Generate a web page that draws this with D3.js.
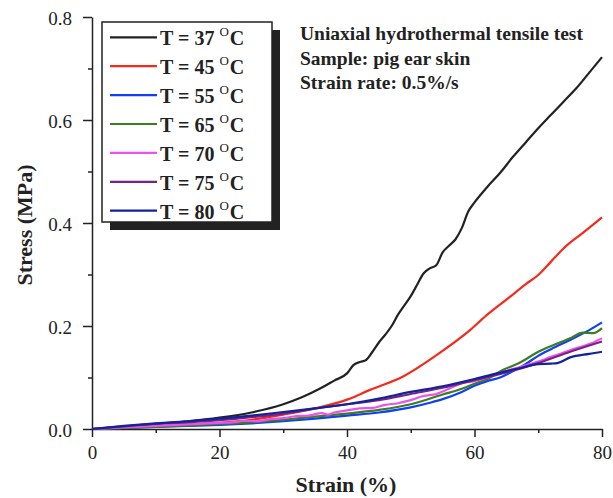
<!DOCTYPE html>
<html>
<head>
<meta charset="utf-8">
<script src="https://cdn.jsdelivr.net/npm/d3@7"></script>
<style>
  body { margin: 0; background: #fff; }
  svg text { font-family: 'Liberation Serif', 'Times New Roman', serif; }
  .axis path, .axis line { stroke: #222; stroke-width: 1.5; }
  .axis text { fill: #222; font-size: 19px; }
</style>
</head>
<body>
<div id="chart"></div>
<script>
// strain (%) sample points and stress (MPa)
const strain37 = [0, 5, 10, 15, 20, 25, 30, 33, 36, 38, 40, 41, 42, 43, 44, 45, 46, 47, 48, 49, 50, 51, 52, 53, 54, 55, 56, 57, 58, 59, 60, 62, 64, 66, 68, 70, 72, 74, 76, 78, 80]
const stress37 = [0, 0.004, 0.010, 0.015, 0.022, 0.032, 0.048, 0.062, 0.080, 0.094, 0.108, 0.124, 0.130, 0.134, 0.150, 0.168, 0.183, 0.200, 0.222, 0.240, 0.258, 0.280, 0.302, 0.312, 0.318, 0.343, 0.356, 0.368, 0.390, 0.422, 0.440, 0.470, 0.497, 0.528, 0.556, 0.584, 0.610, 0.636, 0.662, 0.692, 0.722]

const strain45 = [0, 10, 20, 25, 30, 35, 40, 43.6, 48.8, 54.1, 59.3, 62, 65.6, 68, 70, 72, 74, 77, 80]
const stress45 = [0, 0.005, 0.012, 0.018, 0.028, 0.040, 0.057, 0.076, 0.102, 0.144, 0.192, 0.222, 0.257, 0.281, 0.299, 0.325, 0.351, 0.381, 0.411]

const strain55 = [0, 5, 10, 15, 20, 25, 30, 35, 40, 45, 50, 53, 55, 58, 60, 62, 64, 66, 68, 70, 72, 75, 78, 80]
const stress55 = [0, 0.002, 0.004, 0.006, 0.008, 0.011, 0.015, 0.020, 0.026, 0.032, 0.042, 0.051, 0.058, 0.072, 0.084, 0.093, 0.100, 0.112, 0.126, 0.142, 0.155, 0.173, 0.192, 0.207]

const strain65 = [0, 5, 10, 15, 20, 25, 30, 35, 40, 45, 50, 55, 58, 60, 62, 64.5, 67, 70, 73, 75, 77, 78.6, 80]
const stress65 = [0, 0.002, 0.004, 0.007, 0.010, 0.013, 0.018, 0.024, 0.030, 0.037, 0.048, 0.067, 0.078, 0.088, 0.097, 0.115, 0.128, 0.150, 0.166, 0.176, 0.187, 0.186, 0.196]

const strain70 = [0, 5, 10, 15, 20, 22, 24, 26, 28, 30, 32, 34, 36, 37, 38, 40, 42, 44, 46, 48, 50, 52, 54, 56, 58, 60, 62, 64.5, 67, 70, 72, 75, 78, 80]
const stress70 = [0, 0.003, 0.006, 0.009, 0.012, 0.013, 0.016, 0.015, 0.019, 0.021, 0.025, 0.026, 0.031, 0.028, 0.032, 0.036, 0.040, 0.041, 0.047, 0.050, 0.056, 0.064, 0.068, 0.078, 0.089, 0.093, 0.100, 0.111, 0.120, 0.131, 0.140, 0.153, 0.165, 0.176]

const strain75 = [0, 5, 10, 15, 20, 25, 30, 35, 40, 45, 50, 55, 60, 65, 70, 75, 80]
const stress75 = [0, 0.005, 0.010, 0.013, 0.017, 0.023, 0.030, 0.040, 0.048, 0.056, 0.068, 0.080, 0.095, 0.110, 0.128, 0.150, 0.170]

const strain80 = [0, 5, 10, 15, 20, 25, 30, 35, 40, 45, 50, 55, 60, 64.5, 67, 70, 72, 73, 75, 78, 80]
const stress80 = [0, 0.006, 0.011, 0.015, 0.020, 0.026, 0.033, 0.040, 0.048, 0.059, 0.072, 0.083, 0.097, 0.111, 0.118, 0.126, 0.127, 0.128, 0.139, 0.146, 0.150]

const temps = ['37', '45', '55', '65', '70', '75', '80']
const colors = ['#222222', '#f42a1c', '#1040f5', '#3a7d22', '#ee50ee', '#7a2284', '#11239a']
const strains = [strain37, strain45, strain55, strain65, strain70, strain75, strain80]
const stresses = [stress37, stress45, stress55, stress65, stress70, stress75, stress80]

const xMajor = [0, 20, 40, 60, 80]
const xMinor = [10, 30, 50, 70]
const yMajor = [0, 0.2, 0.4, 0.6, 0.8]
const yMinor = [0.1, 0.3, 0.5, 0.7]

const notes = ['Uniaxial hydrothermal tensile test', 'Sample: pig ear skin', 'Strain rate: 0.5%/s']

const serif = "'Liberation Serif', 'Times New Roman', serif"
const w = 613, h = 498
const svg = d3.select('#chart').append('svg').attr('width', w).attr('height', h)
  .attr('font-family', serif)

const x = d3.scaleLinear().domain([0, 80]).range([92, 602])
const y = d3.scaleLinear().domain([0, 0.8]).range([429, 17])

// axes
const xAxis = svg.append('g').attr('class', 'axis').attr('transform', `translate(0,${y(0)})`)
  .call(d3.axisBottom(x).tickValues(xMajor).tickSize(8).tickSizeOuter(0).tickFormat(d3.format('d')))
  .attr('font-family', serif)
xAxis.selectAll('text').attr('y', 30).attr('dy', 0)
svg.append('g').attr('class', 'axis').attr('transform', `translate(0,${y(0)})`)
  .call(d3.axisBottom(x).tickValues(xMinor).tickSize(4).tickFormat(''))
  .select('.domain').remove()

const yAxis = svg.append('g').attr('class', 'axis').attr('transform', `translate(${x(0)},0)`)
  .call(d3.axisLeft(y).tickValues(yMajor).tickSize(9).tickSizeOuter(0).tickPadding(11).tickFormat(d3.format('.1f')))
  .attr('font-family', serif)
yAxis.selectAll('text').attr('dy', '0.38em')
svg.append('g').attr('class', 'axis').attr('transform', `translate(${x(0)},0)`)
  .call(d3.axisLeft(y).tickValues(yMinor).tickSize(4).tickFormat(''))
  .select('.domain').remove()

// axis titles
svg.append('text').text('Strain (%)').attr('x', 346).attr('y', 492)
  .attr('text-anchor', 'middle').attr('font-weight', 'bold').attr('font-size', 22).attr('fill', '#222')
svg.append('text').text('Stress (MPa)').attr('transform', 'translate(32,225) rotate(-90)')
  .attr('text-anchor', 'middle').attr('font-weight', 'bold').attr('font-size', 22).attr('fill', '#222')

// curves
const line = d3.line().x(d => x(d[0])).y(d => y(d[1])).curve(d3.curveMonotoneX)
temps.forEach((t, i) => {
  let pts = strains[i].map((s, j) => [s, stresses[i][j]])
  svg.append('path').datum(pts).attr('d', line)
    .attr('fill', 'none').attr('stroke', colors[i]).attr('stroke-width', 2.2)
    .attr('stroke-linejoin', 'round')
})

// legend with drop shadow
const lg = svg.append('g')
lg.append('rect').attr('x', 110).attr('y', 30).attr('width', 170).attr('height', 200).attr('fill', '#222')
lg.append('rect').attr('x', 102).attr('y', 22).attr('width', 170).attr('height', 200)
  .attr('fill', '#fff').attr('stroke', '#222').attr('stroke-width', 1.5)
temps.forEach((t, i) => {
  let ly = 37.3 + i * 28.9
  lg.append('line').attr('x1', 110).attr('x2', 157).attr('y1', ly).attr('y2', ly)
    .attr('stroke', colors[i]).attr('stroke-width', 2.2)
  let txt = lg.append('text').attr('x', 160).attr('y', ly + 8)
    .attr('font-weight', 'bold').attr('font-size', 20).attr('fill', '#222')
  txt.append('tspan').text(`T = ${t} `)
  txt.append('tspan').text('O').attr('font-size', 13).attr('dy', -9).attr('font-weight', 'normal')
  txt.append('tspan').text('C').attr('dy', 9).attr('dx', 1)
})

// annotation
svg.selectAll('text.note').data(notes).enter().append('text').attr('class', 'note')
  .text(d => d).attr('x', 300).attr('y', (d, i) => 40 + i * 24.5)
  .attr('font-weight', 'bold').attr('font-size', 19.5).attr('fill', '#222')
</script>
</body>
</html>
